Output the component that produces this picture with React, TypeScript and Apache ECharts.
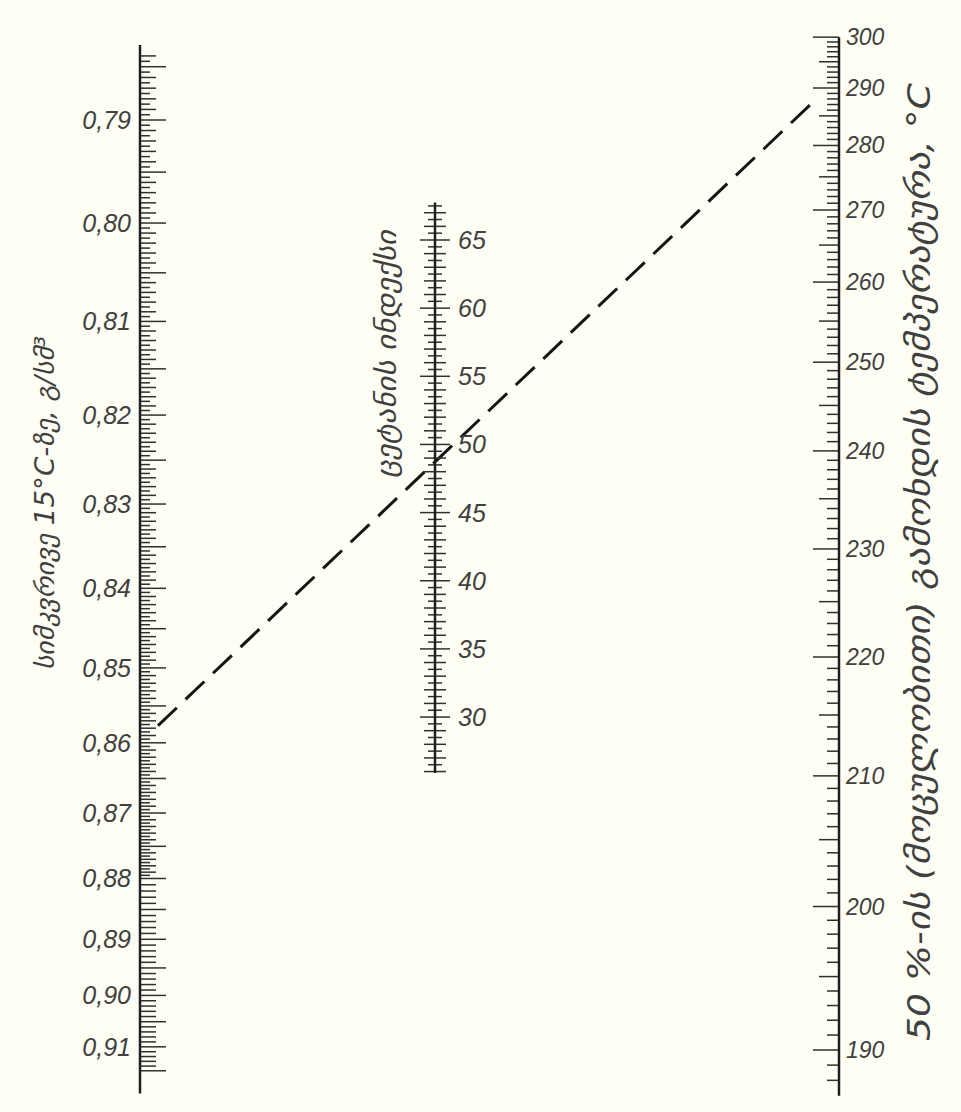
import React, { useEffect, useRef } from "react";
import * as echarts from "echarts";

// ---------- data ----------
const DENSITY_LABELS = [0.79, 0.8, 0.81, 0.82, 0.83, 0.84, 0.85, 0.86, 0.87, 0.88, 0.89, 0.9, 0.91];
const CETANE_LABELS = [30, 35, 40, 45, 50, 55, 60, 65];
const TEMPERATURE_LABELS = [190, 200, 210, 220, 230, 240, 250, 260, 270, 280, 290, 300];
const EXAMPLE_DENSITY = [0.86];
const EXAMPLE_TEMPERATURE = [292];

const LEFT_TITLE = "სიმკვრივე 15°C-ზე, გ/სმ³";
const MID_TITLE = "ცეტანის ინდექსი";
const RIGHT_TITLE = "50 %-ის (მოცულობითი) გამოხდის ტემპერატურა, °C";

// ---------- nomogram geometry (layout) ----------
const W = 961;
const H = 1112;
const AX = { left: 140, mid: 435, right: 839 };

// left scale: density (quadratic scale)
const densityPos = (d: number) => {
  const u = (d - 0.79) * 100;
  return 120 + 105.4 * u - 2.347 * u * u;
};
// right scale: temperature term of the cetane index equation
const tempFn = (b: number) => {
  const l = Math.log10(b);
  return -0.554 * b + 97.803 * l * l;
};
const tempPos = (b: number) => 88 + 32.33 * (tempFn(290) - tempFn(b));
// middle scale: cetane index (linear)
const cetanePos = (c: number) => 240 + (65 - c) * 13.63;

// ---------- tick lists ----------
const leftTicks: number[][] = [];
for (let i = 7840; i <= 9150; i += 5) {
  if (i >= 8800 && i % 10 !== 0) continue;
  const len = i % 50 === 0 ? 26 : i % 10 === 0 ? 16 : 10;
  leftTicks.push([AX.left, densityPos(i / 10000), len, 1]);
}
const midTicks: number[][] = [];
for (let i = 52; i <= 135; i += 1) {
  const v = i / 2;
  const len = i % 10 === 0 ? 15 : i % 2 === 0 ? 11 : 7;
  midTicks.push([AX.mid, cetanePos(v), len, 0]);
}
const rightTicks: number[][] = [];
for (let b = 188; b <= 300; b += 1) {
  const len = b % 10 === 0 ? 26 : b % 5 === 0 ? 20 : 12;
  rightTicks.push([AX.right, tempPos(b), len, -1]);
}

const LINE = "#1e1e1e";
const TICK = "#303030";
const TXT = "#404040";

const tickSeries = (data: number[][]) => ({
  type: "custom",
  coordinateSystem: "cartesian2d",
  silent: true,
  data,
  renderItem: (_p: any, api: any) => {
    const p = api.coord([api.value(0), api.value(1)]);
    const len = api.value(2);
    const dir = api.value(3);
    const x1 = dir === 0 ? p[0] - len : p[0];
    const x2 = dir === 0 ? p[0] + len : p[0] + dir * len;
    return {
      type: "line",
      shape: { x1, y1: p[1], x2, y2: p[1] },
      style: { stroke: TICK, lineWidth: 1.5 },
    };
  },
});

const labelSeries = (data: (number | string)[][], align: string, font: string) => ({
  type: "custom",
  coordinateSystem: "cartesian2d",
  silent: true,
  data,
  renderItem: (params: any, api: any) => {
    const p = api.coord([api.value(0), api.value(1)]);
    return {
      type: "text",
      x: p[0],
      y: p[1],
      style: {
        text: String(data[params.dataIndex][2]),
        fill: TXT,
        font,
        align,
        verticalAlign: "middle",
      },
    };
  },
});

const axisLine = (x: number, y1: number, y2: number) => ({
  type: "line",
  silent: true,
  symbol: "none",
  data: [
    [x, y1],
    [x, y2],
  ],
  lineStyle: { color: LINE, width: 2.5 },
});

export default function App() {
  const ref = useRef<HTMLDivElement>(null);

  useEffect(() => {
    document.body.style.margin = "0";
    document.body.style.overflow = "hidden";
    if (!ref.current) return;
    const chart = echarts.init(ref.current, null, { renderer: "svg" });

    const yL = densityPos(EXAMPLE_DENSITY[0]);
    const yR = tempPos(EXAMPLE_TEMPERATURE[0]);
    const t0 = 18 / (AX.right - AX.left);
    const t1 = 1 - 22 / (AX.right - AX.left);
    const at = (t: number) => [AX.left + (AX.right - AX.left) * t, yL + (yR - yL) * t];

    const option: any = {
      animation: false,
      backgroundColor: "#fffef4",
      grid: { left: 0, right: 0, top: 0, bottom: 0 },
      xAxis: { type: "value", min: 0, max: W, show: false },
      yAxis: { type: "value", min: 0, max: H, inverse: true, show: false },
      series: [
        {
          type: "line",
          silent: true,
          symbol: "none",
          data: [at(t0), at(t1)],
          lineStyle: { color: "#151515", width: 3, type: [26, 12] },
          z: 1,
        },
        axisLine(AX.left, densityPos(0.783), densityPos(0.92)),
        axisLine(AX.mid, cetanePos(67.75), cetanePos(25.9)),
        axisLine(AX.right, tempPos(300), tempPos(187)),
        tickSeries(leftTicks),
        tickSeries(midTicks),
        tickSeries(rightTicks),
        labelSeries(
          DENSITY_LABELS.map((d) => [AX.left - 9, densityPos(d), d.toFixed(2).replace(".", ",")]),
          "right",
          'italic 25px "Liberation Sans"'
        ),
        labelSeries(
          CETANE_LABELS.map((c) => [AX.mid + 23, cetanePos(c), String(c)]),
          "left",
          'italic 25px "Liberation Sans"'
        ),
        labelSeries(
          TEMPERATURE_LABELS.map((b) => [AX.right + 7, tempPos(b), String(b)]),
          "left",
          'italic 23px "Liberation Sans"'
        ),
      ],
      graphic: [
        {
          type: "text",
          x: 45,
          y: 503,
          rotation: Math.PI / 2,
          scaleX: 1.065,
          style: {
            text: LEFT_TITLE,
            font: 'italic 26px "DejaVu Sans"',
            fill: TXT,
            align: "center",
            verticalAlign: "middle",
          },
        },
        {
          type: "text",
          x: 386,
          y: 354,
          rotation: Math.PI / 2,
          scaleX: 1.1,
          style: {
            text: MID_TITLE,
            font: 'italic 28px "DejaVu Sans"',
            fill: TXT,
            align: "center",
            verticalAlign: "middle",
          },
        },
        {
          type: "text",
          x: 919,
          y: 562,
          rotation: Math.PI / 2,
          scaleX: 1.18,
          style: {
            text: RIGHT_TITLE,
            font: 'italic 32px "DejaVu Sans"',
            fill: TXT,
            align: "center",
            verticalAlign: "middle",
          },
        },
      ],
    };
    chart.setOption(option);
    return () => chart.dispose();
  }, []);

  return <div ref={ref} style={{ width: W, height: H }} />;
}
